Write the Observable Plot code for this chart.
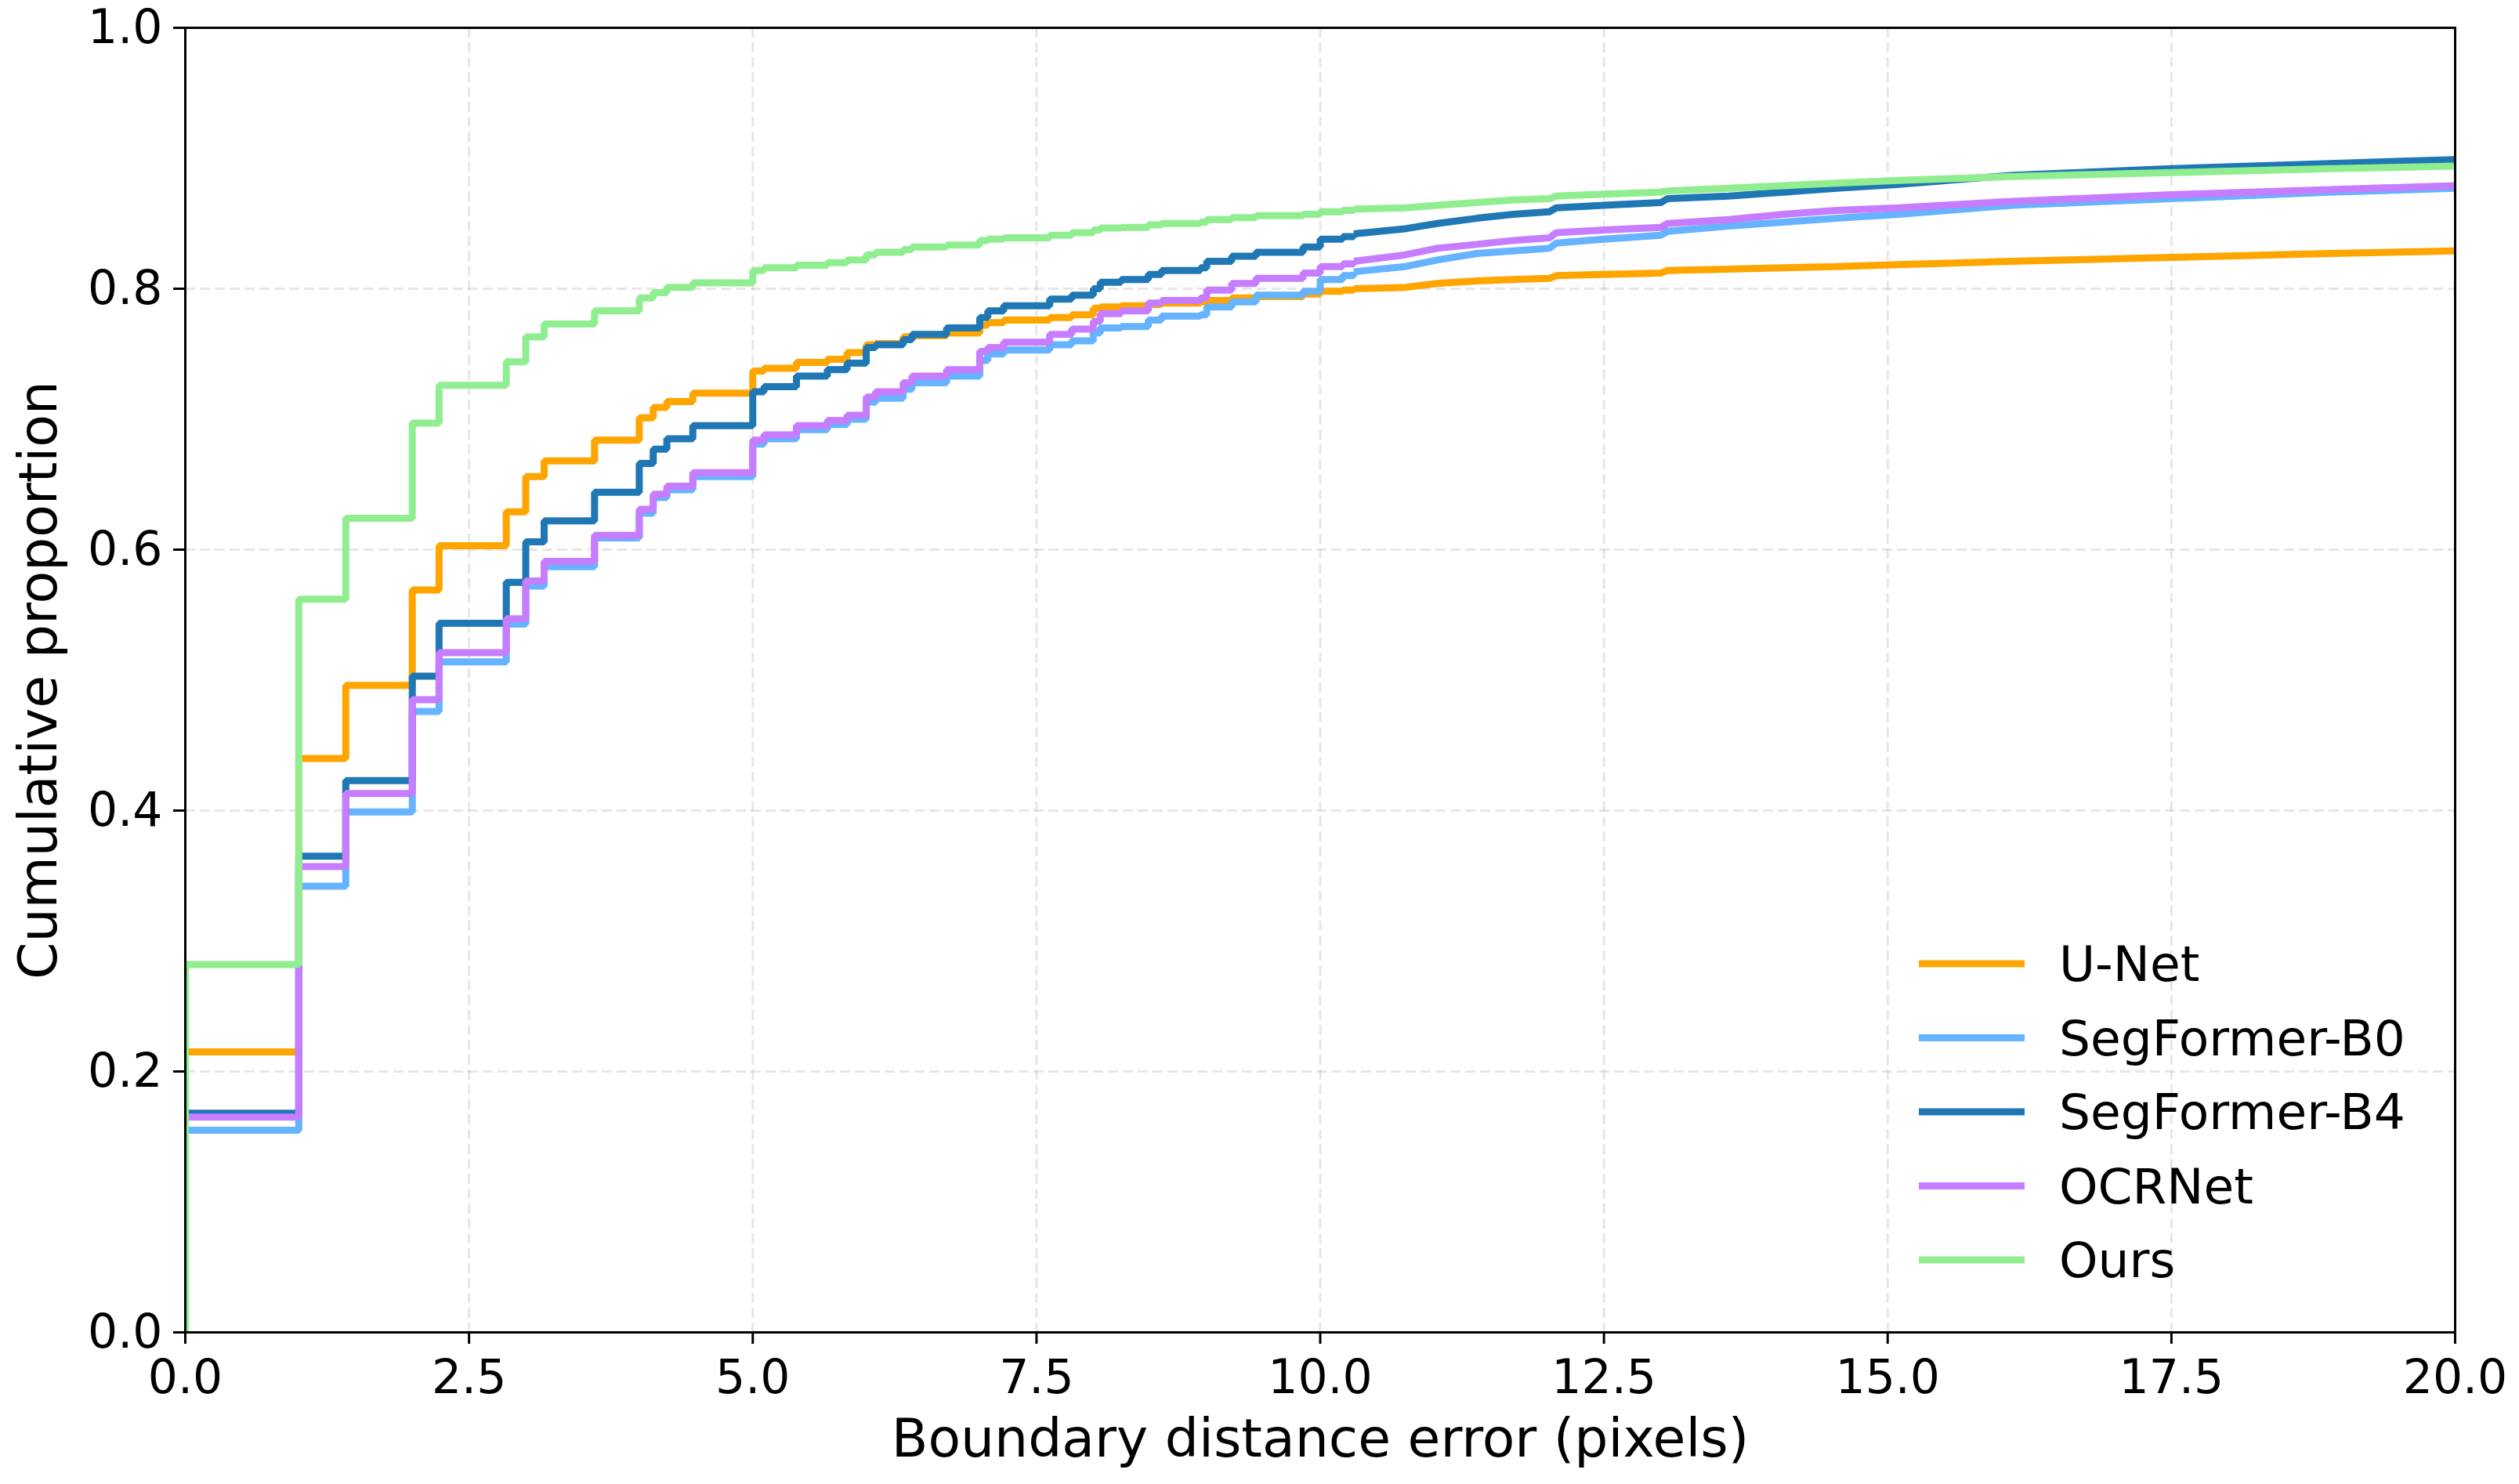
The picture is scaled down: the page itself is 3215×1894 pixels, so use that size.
<!DOCTYPE html>
<html>
<head>
<meta charset="utf-8">
<script src="https://cdn.jsdelivr.net/npm/d3@7"></script>
<script src="https://cdn.jsdelivr.net/npm/@observablehq/plot@0.6"></script>
<style>
  html, body { margin: 0; padding: 0; background: #fff; }
  #chart { width: 3215px; height: 1894px; }
</style>
</head>
<body>
<div id="chart"></div>
<script>
// ---- data ----
const seriesNames = ["U-Net", "SegFormer-B0", "SegFormer-B4", "OCRNet", "Ours"];
const seriesColors = ["#FFA500", "#66B3FF", "#1F77B4", "#C77DFF", "#90EE90"];

// step breakpoints (boundary distance, pixels)
const xHead = [0, 1, 1.414, 2, 2.236, 2.828, 3, 3.162, 3.606, 4, 4.123, 4.243, 4.472, 5, 5.099, 5.385,
  5.657, 5.831, 6, 6.083, 6.325, 6.403, 6.708, 7, 7.071, 7.211, 7.616, 7.81, 8, 8.062, 8.246, 8.485,
  8.602, 8.944, 9, 9.22, 9.434, 9.849, 10, 10.198, 10.296];

const unetHead = [0.215, 0.44, 0.496, 0.569, 0.603, 0.629, 0.656, 0.668, 0.684, 0.701, 0.709, 0.7135, 0.720, 0.737, 0.739, 0.7435,
  0.746, 0.751, 0.757, 0.758, 0.763, 0.764, 0.766, 0.772, 0.774, 0.776, 0.778, 0.780, 0.785, 0.786, 0.787, 0.788,
  0.789, 0.790, 0.791, 0.793, 0.794, 0.796, 0.798, 0.799, 0.800];
const segB0Head = [0.155, 0.342, 0.399, 0.476, 0.514, 0.543, 0.572, 0.587, 0.609, 0.628, 0.640, 0.646, 0.656, 0.681, 0.685, 0.692,
  0.696, 0.700, 0.713, 0.716, 0.723, 0.728, 0.733, 0.745, 0.750, 0.753, 0.757, 0.760, 0.766, 0.770, 0.771, 0.776,
  0.779, 0.780, 0.786, 0.790, 0.795, 0.798, 0.807, 0.810, 0.813];
const segB4Head = [0.168, 0.365, 0.423, 0.503, 0.5435, 0.575, 0.606, 0.622, 0.644, 0.666, 0.677, 0.685, 0.695, 0.721, 0.725, 0.733,
  0.738, 0.743, 0.755, 0.757, 0.761, 0.765, 0.770, 0.778, 0.783, 0.787, 0.792, 0.795, 0.800, 0.805, 0.807, 0.811,
  0.814, 0.816, 0.821, 0.825, 0.828, 0.832, 0.838, 0.840, 0.842];
const ocrHead = [0.165, 0.357, 0.413, 0.485, 0.521, 0.547, 0.576, 0.591, 0.611, 0.631, 0.6425, 0.6486, 0.659, 0.684, 0.688, 0.695,
  0.699, 0.703, 0.717, 0.721, 0.728, 0.733, 0.738, 0.752, 0.755, 0.759, 0.765, 0.769, 0.775, 0.781, 0.783, 0.789,
  0.791, 0.793, 0.799, 0.804, 0.808, 0.812, 0.817, 0.819, 0.821];
const oursHead = [0.282, 0.562, 0.624, 0.697, 0.726, 0.744, 0.763, 0.773, 0.783, 0.793, 0.797, 0.801, 0.8045, 0.814, 0.816, 0.818,
  0.820, 0.822, 0.826, 0.828, 0.830, 0.832, 0.8335, 0.837, 0.838, 0.839, 0.841, 0.843, 0.845, 0.8465, 0.847, 0.849,
  0.850, 0.851, 0.853, 0.8545, 0.856, 0.857, 0.859, 0.860, 0.861];

// dense tail (fine steps, read at these distances)
const xTail = [10.296, 10.75, 11.03, 11.38, 11.7, 12.02, 12.08, 12.5, 13.0, 13.06, 13.6, 14.08, 14.55, 15.1, 16.1, 17.5, 18.9, 20];
const unetTail = [0.800, 0.801, 0.804, 0.806, 0.807, 0.808, 0.810, 0.811, 0.812, 0.814, 0.815, 0.816, 0.817, 0.8185, 0.821, 0.824, 0.827, 0.829];
const segB0Tail = [0.813, 0.817, 0.822, 0.827, 0.829, 0.831, 0.835, 0.838, 0.841, 0.844, 0.848, 0.851, 0.854, 0.857, 0.864, 0.869, 0.874, 0.877];
const segB4Tail = [0.842, 0.846, 0.850, 0.854, 0.857, 0.859, 0.862, 0.864, 0.866, 0.869, 0.871, 0.874, 0.877, 0.880, 0.887, 0.892, 0.896, 0.899];
const ocrTail = [0.821, 0.826, 0.831, 0.834, 0.837, 0.839, 0.843, 0.845, 0.847, 0.850, 0.853, 0.857, 0.860, 0.862, 0.867, 0.872, 0.876, 0.879];
const oursTail = [0.861, 0.862, 0.864, 0.866, 0.868, 0.869, 0.871, 0.8725, 0.874, 0.875, 0.877, 0.879, 0.881, 0.883, 0.886, 0.889, 0.892, 0.894];

const xTicks = [0, 2.5, 5, 7.5, 10, 12.5, 15, 17.5, 20];
const yTicks = [0, 0.2, 0.4, 0.6, 0.8, 1.0];
const xLabel = "Boundary distance error (pixels)";
const yLabel = "Cumulative proportion";

// ---- build tables ----
const heads = [unetHead, segB0Head, segB4Head, ocrHead, oursHead];
const tails = [unetTail, segB0Tail, segB4Tail, ocrTail, oursTail];
const headRows = [];
const tailRows = [];
seriesNames.forEach((name, s) => {
  headRows.push({name, x: xHead[0], y: 0});
  xHead.forEach((x, i) => headRows.push({name, x, y: heads[s][i]}));
  xTail.forEach((x, i) => tailRows.push({name, x, y: tails[s][i]}));
});

const fmt = d3.format(".1f");
const LW = 9;

const chart = Plot.plot({
  width: 3215,
  height: 1894,
  marginLeft: 236,
  marginRight: 82,
  marginTop: 35,
  marginBottom: 194,
  style: {fontFamily: "DejaVu Sans", background: "#fff", color: "#000"},
  x: {domain: [0, 20]},
  y: {domain: [0, 1]},
  color: {domain: seriesNames, range: seriesColors},
  marks: [
    Plot.gridX(xTicks.slice(1, -1), {stroke: "#b0b0b0", strokeOpacity: 0.3, strokeWidth: 3, strokeDasharray: "13,6"}),
    Plot.gridY(yTicks.slice(1, -1), {stroke: "#b0b0b0", strokeOpacity: 0.3, strokeWidth: 3, strokeDasharray: "13,6"}),
    Plot.line(headRows, {x: "x", y: "y", z: "name", stroke: "name", curve: "step-after",
      strokeWidth: LW, strokeLinejoin: "miter", strokeLinecap: "butt", clip: true}),
    Plot.line(tailRows, {x: "x", y: "y", z: "name", stroke: "name", curve: "linear",
      strokeWidth: LW, strokeLinejoin: "miter", strokeLinecap: "butt", clip: true}),
    Plot.frame({stroke: "#000", strokeWidth: 3}),
    Plot.axisX({ticks: xTicks, tickFormat: fmt, tickSize: 15, tickPadding: 20, fontSize: 60,
      strokeWidth: 3, label: null}),
    Plot.axisY({ticks: yTicks, tickFormat: fmt, tickSize: 15, tickPadding: 14, fontSize: 60,
      strokeWidth: 3, label: null}),
    Plot.text([xLabel], {text: d => d, frameAnchor: "bottom", dy: 137, fontSize: 68, lineAnchor: "middle",
      textAnchor: "middle", fill: "#000"}),
    Plot.text([yLabel], {text: d => d, frameAnchor: "left", dx: -186, rotate: -90, fontSize: 68, lineAnchor: "middle",
      textAnchor: "middle", fill: "#000"})
  ]
});

document.getElementById("chart").appendChild(chart);

// ---- legend (inside plot area, lower right) ----
const svg = d3.select(chart);
const leg = svg.append("g").attr("font-family", "DejaVu Sans").attr("font-size", 63).attr("text-anchor", "start");
seriesNames.forEach((name, i) => {
  const cy = 1230 + i * 94.5;
  leg.append("line").attr("x1", 2449).attr("x2", 2584).attr("y1", cy).attr("y2", cy)
    .attr("stroke", seriesColors[i]).attr("stroke-width", LW);
  leg.append("text").attr("x", 2628).attr("y", cy).attr("dy", "0.35em").attr("fill", "#000")
    .attr("text-anchor", "start").text(name);
});
</script>
</body>
</html>
